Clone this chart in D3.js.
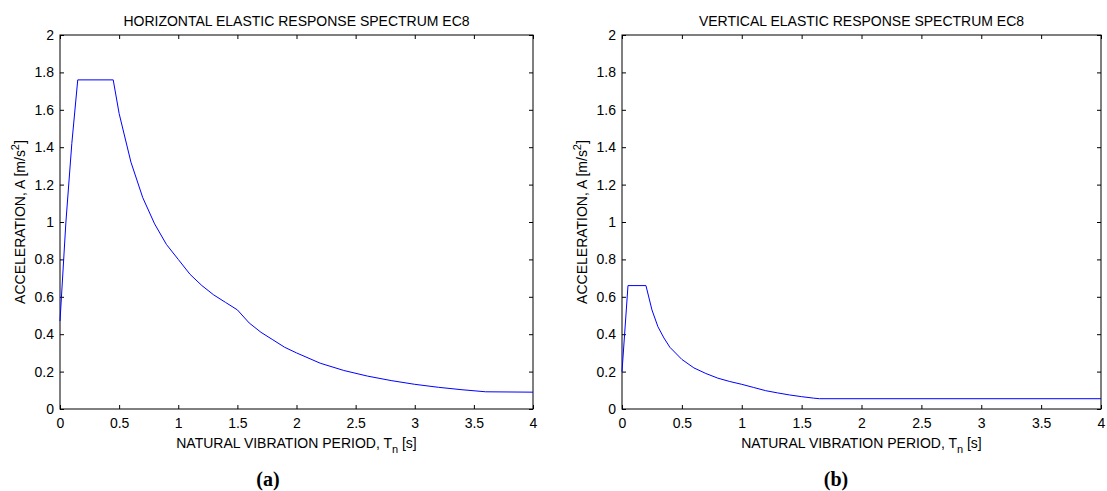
<!DOCTYPE html>
<html>
<head>
<meta charset="utf-8">
<style>
  body { margin: 0; background: #fff; }
  text { font-family: "Liberation Sans", Arial, sans-serif; }
</style>
</head>
<body>
<script src="https://cdn.jsdelivr.net/npm/d3@7"></script>
<script>

  const width = 1107,
        height = 491

  // horizontal spectrum (a)
  const periodsH = [0, 0.05, 0.1, 0.15, 0.45, 0.5, 0.6, 0.7, 0.8, 0.9, 1.0, 1.1, 1.2, 1.3, 1.4, 1.5,
                    1.6, 1.7, 1.8, 1.9, 2.0, 2.2, 2.4, 2.6, 2.8, 3.0, 3.2, 3.4, 3.6, 4.0]
  const accelH = [0.47, 1.0, 1.42, 1.76, 1.76, 1.58, 1.32, 1.13, 0.99, 0.88, 0.80, 0.72, 0.66, 0.61, 0.57, 0.53,
                  0.46, 0.41, 0.37, 0.33, 0.30, 0.245, 0.206, 0.176, 0.152, 0.132, 0.116, 0.103, 0.092, 0.09]

  // vertical spectrum (b)
  const periodsV = [0, 0.05, 0.2, 0.25, 0.3, 0.35, 0.4, 0.5, 0.6, 0.7, 0.8, 0.9, 1.0, 1.1, 1.2, 1.3,
                    1.4, 1.5, 1.6, 1.65, 4.0]
  const accelV = [0.2, 0.66, 0.66, 0.53, 0.44, 0.38, 0.33, 0.265, 0.22, 0.19, 0.165, 0.147, 0.132, 0.115, 0.098, 0.086,
                  0.075, 0.066, 0.058, 0.055, 0.055]

  const xTicks = [0, 0.5, 1, 1.5, 2, 2.5, 3, 3.5, 4]
  const yTicks = [0, 0.2, 0.4, 0.6, 0.8, 1, 1.2, 1.4, 1.6, 1.8, 2]

  const panels = [
    {title: 'HORIZONTAL ELASTIC RESPONSE SPECTRUM EC8', caption: '(a)', T: periodsH, A: accelH, x0: 60, x1: 533, capX: 268},
    {title: 'VERTICAL ELASTIC RESPONSE SPECTRUM EC8', caption: '(b)', T: periodsV, A: accelV, x0: 622, x1: 1101, capX: 836}
  ]
  const plotTop = 35, plotBottom = 409
  const fontSize = "14px"

  const svg = d3.select("body")
    .append("svg")
      .attr("width", width)
      .attr("height", height)

  panels.forEach(p => {
    const xScale = d3.scaleLinear().domain([0, 4]).range([p.x0, p.x1])
    const yScale = d3.scaleLinear().domain([0, 2]).range([plotBottom, plotTop])
    const g = svg.append("g")

    // ticks inside the box, all four sides
    const tickLen = 4
    g.append("g")
      .attr("transform", `translate(0, ${plotBottom})`)
      .call(d3.axisBottom(xScale).tickValues(xTicks).tickSizeInner(-tickLen).tickSizeOuter(0)
        .tickPadding(9).tickFormat(d3.format("~g")))
    g.append("g")
      .attr("transform", `translate(0, ${plotTop})`)
      .call(d3.axisTop(xScale).tickValues(xTicks).tickSizeInner(-tickLen).tickSizeOuter(0).tickFormat(""))
    g.append("g")
      .attr("transform", `translate(${p.x0}, 0)`)
      .call(d3.axisLeft(yScale).tickValues(yTicks).tickSizeInner(-tickLen).tickSizeOuter(0)
        .tickPadding(6).tickFormat(d3.format("~g")))
    g.append("g")
      .attr("transform", `translate(${p.x1}, 0)`)
      .call(d3.axisRight(yScale).tickValues(yTicks).tickSizeInner(-tickLen).tickSizeOuter(0).tickFormat(""))

    g.selectAll(".domain").remove()
    g.selectAll(".tick line").attr("stroke", "#000")
    g.selectAll(".tick text")
      .style("font-family", "Liberation Sans")
      .style("font-size", fontSize)
      .attr("fill", "#000")

    g.append("rect")
      .attr("x", p.x0).attr("y", plotTop)
      .attr("width", p.x1 - p.x0).attr("height", plotBottom - plotTop)
      .attr("fill", "none").attr("stroke", "#000").attr("stroke-width", 1)

    const line = d3.line()
      .x((d, i) => xScale(p.T[i]))
      .y(d => yScale(d))

    g.append("path")
      .datum(p.A)
      .attr("d", line)
      .attr("fill", "none")
      .attr("stroke", "#0000ff")
      .attr("stroke-width", 1)

    const cx = (p.x0 + p.x1) / 2
    g.append("text")
      .attr("x", cx).attr("y", 26)
      .style("text-anchor", "middle")
      .style("font-size", fontSize)
      .text(p.title)

    const xl = g.append("text")
      .attr("x", cx).attr("y", 448)
      .style("text-anchor", "middle")
      .style("font-size", fontSize)
    xl.append("tspan").text("NATURAL VIBRATION PERIOD, T")
    xl.append("tspan").attr("dy", 5).style("font-size", "11px").text("n")
    xl.append("tspan").attr("dy", -5).text(" [s]")

    const yl = g.append("text")
      .attr("transform", `translate(${p.x0 - 35}, ${(plotTop + plotBottom) / 2}) rotate(-90)`)
      .style("text-anchor", "middle")
      .style("font-size", fontSize)
    yl.append("tspan").text("ACCELERATION, A [m/s")
    yl.append("tspan").attr("dy", -6).style("font-size", "11px").text("2")
    yl.append("tspan").attr("dy", 6).text("]")

    g.append("text")
      .attr("x", p.capX).attr("y", 486)
      .style("text-anchor", "middle")
      .style("font-family", "Liberation Serif")
      .style("font-weight", "bold")
      .style("font-size", "20px")
      .text(p.caption)
  })

</script>
</body>
</html>
